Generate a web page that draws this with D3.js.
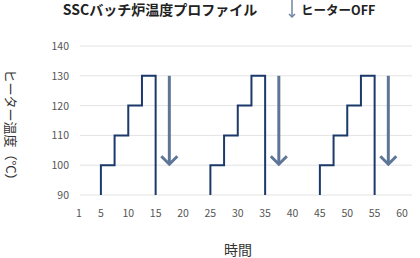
<!DOCTYPE html>
<html>
<head>
<meta charset="utf-8">
<script src="https://cdn.jsdelivr.net/npm/d3@7"></script>
<style>
  body { margin: 0; background: #fff; }
  svg { display: block; font-family: "Noto Sans CJK JP", "Noto Sans", sans-serif; }
</style>
</head>
<body>
<div id="chart"></div>
<script>
// temperature profile: each cycle climbs 90 -> 130 in 10 degree steps, then heater off
var heaterTemps = [90, 100, 110, 120, 130, 90];
var cycle1Times = [5, 5, 7.5, 10, 12.5, 15];
var cycle2Times = [25, 25, 27.5, 30, 32.5, 35];
var cycle3Times = [45, 45, 47.5, 50, 52.5, 55];
var offTimes = [17.5, 37.5, 57.5];
var offFrom = 130, offTo = 100;
var xTicks = [1, 5, 10, 15, 20, 25, 30, 35, 40, 45, 50, 55, 60];
var yTicks = [90, 100, 110, 120, 130, 140];

var W = 420, H = 258;
var svg = d3.select("#chart").append("svg")
    .attr("width", W)
    .attr("height", H);

var x = d3.scaleLinear().domain([1, 60]).range([79, 402]);
var y = d3.scaleLinear().domain([90, 140]).range([195, 46]);

// grid lines
svg.append("g")
    .selectAll("line")
    .data(yTicks)
    .enter()
    .append("line")
    .attr("x1", 80)
    .attr("x2", 412)
    .attr("y1", function (d) { return y(d); })
    .attr("y2", function (d) { return y(d); })
    .attr("stroke", "#e3e3e3")
    .attr("stroke-width", 1);

// y tick labels
svg.append("g")
    .selectAll("text")
    .data(yTicks)
    .enter()
    .append("text")
    .attr("x", 69)
    .attr("y", function (d) { return y(d) + 4; })
    .attr("text-anchor", "end")
    .attr("font-size", "10.5px")
    .attr("fill", "#555")
    .text(function (d) { return d; });

// x tick labels
svg.append("g")
    .selectAll("text")
    .data(xTicks)
    .enter()
    .append("text")
    .attr("x", function (d) { return x(d); })
    .attr("y", 217)
    .attr("text-anchor", "middle")
    .attr("font-size", "10.5px")
    .attr("fill", "#555")
    .text(function (d) { return d; });

// step lines
var line = d3.line()
    .x(function (d) { return x(d[0]); })
    .y(function (d) { return y(d[1]); })
    .curve(d3.curveStepAfter);

[cycle1Times, cycle2Times, cycle3Times].forEach(function (times) {
    var pts = times.map(function (t, i) { return [t, heaterTemps[i]]; });
    svg.append("path")
        .attr("d", line(pts))
        .attr("fill", "none")
        .attr("stroke", "#1b3a6b")
        .attr("stroke-width", 2);
});

// heater off arrows
function drawArrow(g, cx, y0, y1, head, color, width) {
    g.append("line")
        .attr("x1", cx).attr("x2", cx)
        .attr("y1", y0).attr("y2", y1)
        .attr("stroke", color)
        .attr("stroke-width", width);
    g.append("path")
        .attr("d", "M" + (cx - head) + "," + (y1 - head) + "L" + cx + "," + y1 + "L" + (cx + head) + "," + (y1 - head))
        .attr("fill", "none")
        .attr("stroke", color)
        .attr("stroke-width", width);
}

var arrows = svg.append("g");
offTimes.forEach(function (t) {
    drawArrow(arrows, x(t), y(offFrom), y(offTo) - 1, 8, "#5d7596", 3);
});

// title
svg.append("text")
    .attr("x", 160)
    .attr("y", 15)
    .attr("text-anchor", "middle")
    .attr("font-size", "14px")
    .attr("font-weight", "bold")
    .attr("fill", "#222")
    .text("SSCバッチ炉温度プロファイル");

// legend
drawArrow(svg, 292, 0, 17, 3, "#6f84a0", 1.5);
svg.append("text")
    .attr("x", 301)
    .attr("y", 15)
    .attr("font-size", "12.5px")
    .attr("font-weight", "bold")
    .attr("fill", "#222")
    .text("ヒーターOFF");

// axis titles
svg.append("text")
    .attr("transform", "translate(6,128) rotate(90)")
    .attr("text-anchor", "middle")
    .attr("font-size", "13px")
    .attr("fill", "#333")
    .text("ヒーター温度（°C）");

svg.append("text")
    .attr("x", 238)
    .attr("y", 255)
    .attr("text-anchor", "middle")
    .attr("font-size", "14px")
    .attr("fill", "#333")
    .text("時間");
</script>
</body>
</html>
